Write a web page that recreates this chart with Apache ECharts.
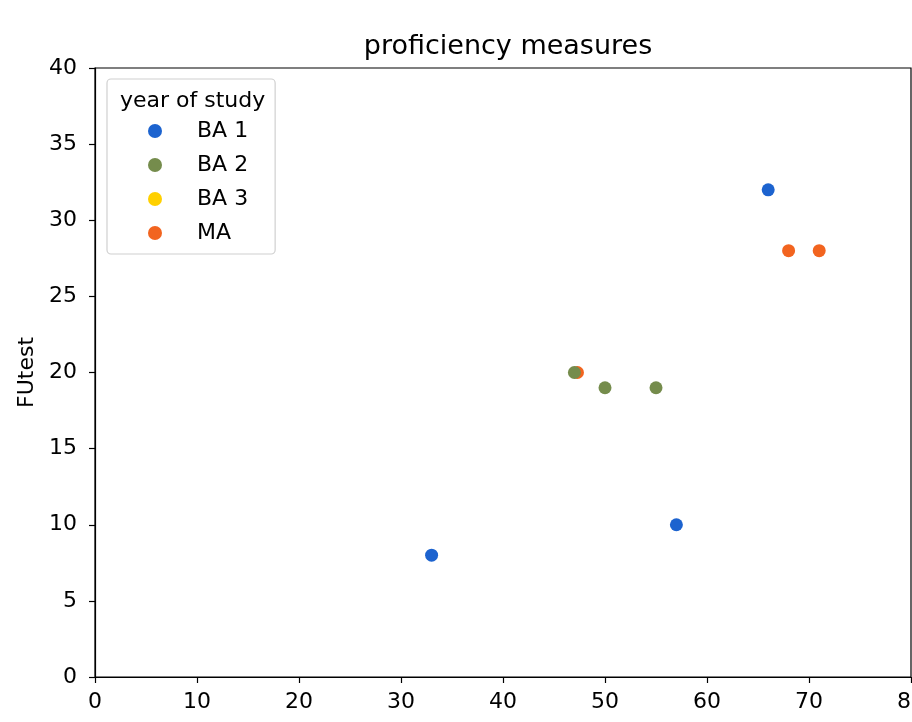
<!DOCTYPE html>
<html>
<head>
<meta charset="utf-8">
<script src="https://cdn.jsdelivr.net/npm/echarts@6/dist/echarts.min.js"></script>
<style>html,body{margin:0;padding:0;background:#fff}#c{width:912px;height:722px}</style>
</head>
<body>
<div id="c"></div>
<script>
var groups = ['BA 1', 'BA 2', 'BA 3', 'MA'];
var colors = ['#1c63cf', '#758c4c', '#ffd000', '#f2641f'];
var ba1 = [[33, 8], [57, 10], [66, 32]];
var ba2 = [[47, 20], [50, 19], [55, 19]];
var ba3 = [];
var ma = [[47.3, 20], [68, 28], [71, 28]];
var seriesData = [ba1, ba2, ba3, ma];
var zOrder = [3, 4, 2, 1];
var xTicks = [0, 80, 10];
var yTicks = [0, 40, 5];

var font = 'DejaVu Sans';
var chart = echarts.init(document.getElementById('c'), null, {renderer: 'canvas'});
chart.setOption({
  animation: false,
  backgroundColor: '#fff',
  title: [{
    text: 'proficiency measures', left: 503, top: 28, textAlign: 'center',
    textStyle: {fontFamily: font, fontSize: 27, fontWeight: 'normal', color: '#000'}
  }, {
    text: 'year of study', left: 115, top: 85,
    textStyle: {fontFamily: font, fontSize: 22, fontWeight: 'normal', color: '#000'}
  }],
  legend: {
    orient: 'vertical', left: 107, top: 79,
    padding: [41, 27, 10, 41],
    borderColor: '#d0d0d0', borderWidth: 1.2, borderRadius: 4,
    backgroundColor: 'rgba(255,255,255,0.8)',
    itemWidth: 14, itemHeight: 14, itemGap: 12,
    icon: 'circle',
    data: groups.map(function (g, i) { return {name: g, itemStyle: {color: colors[i]}}; }),
    textStyle: {fontFamily: font, fontSize: 22, color: '#000', padding: [0, 0, 0, 30]}
  },
  grid: {left: 95, right: 1, top: 68, bottom: 45, show: true, borderColor: '#000', borderWidth: 1.2, outerBoundsMode: 'none', containLabel: false},
  xAxis: {
    type: 'value', min: xTicks[0], max: xTicks[1], interval: xTicks[2],
    splitLine: {show: false},
    axisLine: {show: true, lineStyle: {color: '#000', width: 1.2}},
    axisTick: {show: true, length: 6, lineStyle: {color: '#000', width: 1.2}},
    axisLabel: {fontFamily: font, fontSize: 22, color: '#000', margin: 14}
  },
  yAxis: {
    type: 'value', min: yTicks[0], max: yTicks[1], interval: yTicks[2],
    name: 'FUtest', nameLocation: 'middle', nameGap: 54,
    nameTextStyle: {fontFamily: font, fontSize: 22, color: '#000'},
    splitLine: {show: false},
    axisLine: {show: true, lineStyle: {color: '#000', width: 1.2}},
    axisTick: {show: true, length: 6, lineStyle: {color: '#000', width: 1.2}},
    axisLabel: {fontFamily: font, fontSize: 22, color: '#000', margin: 18}
  },
  series: groups.map(function (g, i) {
    return {
      name: g, type: 'scatter', data: seriesData[i], symbolSize: 13, z: zOrder[i],
      itemStyle: {color: colors[i], opacity: 1}
    };
  })
});
</script>
</body>
</html>
